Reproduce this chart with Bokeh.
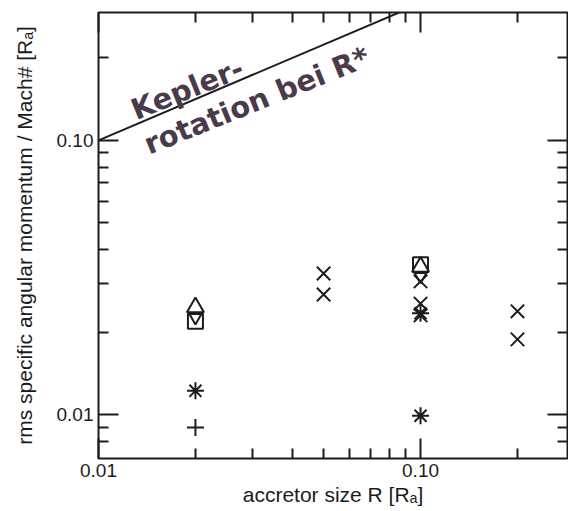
import math
from bokeh.plotting import figure
from bokeh.models import LogAxis, FixedTicker, Label, Range1d, PrintfTickFormatter
from bokeh.embed import file_html
from bokeh.resources import INLINE

# accretor size R [R_A] and rms specific angular momentum / Mach# [R_A], grouped by symbol
x_mark_r = [0.05, 0.05, 0.1, 0.1, 0.1, 0.2, 0.2]
x_mark_j = [0.0327, 0.0274, 0.0306, 0.0254, 0.0230, 0.0238, 0.0188]

triangle_r = [0.02, 0.1]
triangle_j = [0.0246, 0.0346]

square_r = [0.02, 0.1]
square_j = [0.0219, 0.0352]

inv_triangle_r = [0.02, 0.1]
inv_triangle_j = [0.0226, 0.0319]

asterisk_r = [0.02, 0.1, 0.1]
asterisk_j = [0.0122, 0.0234, 0.0099]

plus_r = [0.02]
plus_j = [0.00897]

# Keplerian rotation at the stellar radius
kepler_r = [0.01, 0.09]
kepler_j = [0.10, 0.30]

major_ticks = [0.01, 0.1]
minor_x = [0.02, 0.03, 0.04, 0.05, 0.06, 0.07, 0.08, 0.09, 0.2]
minor_y = [0.008, 0.009, 0.02, 0.03, 0.04, 0.05, 0.06, 0.07, 0.08, 0.09, 0.2]

x_title = "accretor size R [R\u2090]"
y_title = "rms specific angular momentum / Mach# [R\u2090]"

INK = "#1c1c1c"
HAND = "#4a3a4c"
FONT = "Liberation Sans"

p = figure(width=568, height=511, x_axis_type="log", y_axis_type="log",
           x_range=Range1d(0.01, 0.286), y_range=Range1d(0.00691, 0.293),
           output_backend="svg", toolbar_location=None,
           min_border_left=98, min_border_right=1, min_border_top=12,
           min_border_bottom=53)
p.background_fill_color = "white"
p.border_fill_color = "white"
p.outline_line_color = INK
p.outline_line_width = 2
p.grid.visible = False

xt = FixedTicker(ticks=major_ticks, minor_ticks=minor_x)
yt = FixedTicker(ticks=major_ticks, minor_ticks=minor_y)


def style_axis(ax, labels=True):
    ax.axis_line_color = None
    ax.major_tick_line_color = INK
    ax.minor_tick_line_color = INK
    ax.major_tick_line_width = 2
    ax.minor_tick_line_width = 2
    ax.major_tick_in = 20
    ax.major_tick_out = 0
    ax.minor_tick_in = 10
    ax.minor_tick_out = 0
    if labels:
        ax.major_label_text_font = FONT
        ax.major_label_text_font_size = "19px"
        ax.major_label_text_color = INK
        ax.major_label_standoff = 5
        ax.formatter = PrintfTickFormatter(format="%.2f")
        ax.axis_label_text_font = FONT
        ax.axis_label_text_font_size = "21px"
        ax.axis_label_text_font_style = "normal"
        ax.axis_label_text_color = INK
    else:
        ax.major_label_text_font_size = "1px"
        ax.major_label_text_alpha = 0
        ax.major_label_standoff = 0


p.xaxis.ticker = xt
p.yaxis.ticker = yt
style_axis(p.xaxis[0])
style_axis(p.yaxis[0])
p.xaxis.axis_label = x_title
p.xaxis.axis_label_standoff = 3
p.yaxis.axis_label = y_title
p.yaxis.axis_label_standoff = 18

top = LogAxis(ticker=xt)
right = LogAxis(ticker=yt)
style_axis(top, labels=False)
style_axis(right, labels=False)
p.add_layout(top, "above")
p.add_layout(right, "right")

p.line(kepler_r, kepler_j, line_width=2, color=INK)

mk = dict(line_color=INK, line_width=2, fill_color=None)
p.scatter(x_mark_r, x_mark_j, marker="x", size=19, **mk)
p.scatter(triangle_r, triangle_j, marker="triangle", size=17, **mk)
p.scatter(square_r, square_j, marker="square", size=15, **mk)
p.scatter(inv_triangle_r, inv_triangle_j, marker="inverted_triangle", size=12, **mk)
p.scatter(asterisk_r, asterisk_j, marker="asterisk", size=17, **mk)
p.scatter(plus_r, plus_j, marker="cross", size=17, **mk)

# handwritten annotation along the Kepler line
ang = math.radians(22)
hand = dict(angle=ang, text_font="DejaVu Sans", text_font_style="bold",
            text_font_size="29px", text_color=HAND, text_baseline="alphabetic")
p.add_layout(Label(x=0.01275, y=0.128, text="Kepler-", **hand))
p.add_layout(Label(x=0.01399, y=0.0958, text="rotation bei R*", **hand))

open("out.html", "w").write(file_html(p, INLINE))
